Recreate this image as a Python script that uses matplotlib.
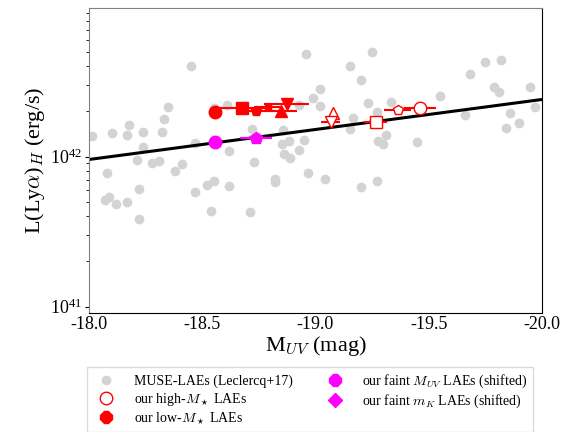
import numpy as np
import matplotlib
matplotlib.use('Agg')
from matplotlib import pyplot as plt
from matplotlib.lines import Line2D

plt.rcParams['font.family'] = ['Liberation Serif', 'DejaVu Serif']
plt.rcParams['mathtext.fontset'] = 'cm'
plt.rcParams['axes.unicode_minus'] = False

# MUSE-LAEs (Leclercq+17): M_UV, log L(Lya)_H
muse_mag = [-18.449, -18.961, -19.251, -19.151, -19.201, -19.021, -18.990, -19.232,
            -19.333, -19.551, -19.681, -19.751, -19.820, -19.791, -19.812, -19.950,
            -19.969, -18.349, -18.611, -18.930, -19.021, -18.552, -18.012, -18.330,
            -18.178, -18.100, -18.169, -18.240, -18.321, -18.240, -18.469, -18.078,
            -18.211, -18.279, -18.309, -18.380, -18.411, -18.221, -18.071, -18.088,
            -18.119, -18.169, -18.469, -18.520, -18.551, -18.619, -18.619, -18.540,
            -18.710, -18.221, -18.720, -18.730, -18.851, -18.882, -18.858, -18.949,
            -18.930, -18.861, -18.889, -18.821, -18.821, -18.968, -19.041, -19.202,
            -19.272, -19.167, -19.152, -19.311, -19.277, -19.299, -19.449, -19.661,
            -19.859, -19.900, -19.841, -19.272]
muse_logL = [42.605, 42.681, 42.699, 42.605, 42.508, 42.450, 42.388, 42.359,
             42.363, 42.405, 42.552, 42.628, 42.643, 42.461, 42.428, 42.461,
             42.330, 42.332, 42.345, 42.343, 42.337, 42.323, 42.139, 42.250,
             42.210, 42.159, 42.143, 42.161, 42.161, 42.065, 42.088, 41.888,
             41.977, 41.959, 41.972, 41.903, 41.950, 41.783, 41.710, 41.728,
             41.683, 41.699, 41.765, 41.808, 41.837, 41.803, 42.037, 41.639,
             41.632, 41.581, 42.181, 41.961, 42.081, 42.103, 42.177, 42.110,
             42.045, 42.015, 41.988, 41.850, 41.832, 41.888, 41.850, 41.799,
             41.839, 42.255, 42.181, 42.143, 42.105, 42.081, 42.095, 42.277,
             42.288, 42.225, 42.188, 42.297]

# linear relation
line_mag = [-18.0, -20.0]
line_logL = [41.98, 42.38]

# our low-M* LAEs (filled red)
low_mag = [-18.556, -18.677, -18.737, -18.790, -18.848, -18.874]
low_logL = [42.295, 42.323, 42.303, 42.327, 42.305, 42.348]
low_err = [0.0, 0.12, 0.08, 0.06, 0.07, 0.10]
low_mk = ['o', 's', 'p', 's', '^', 'v']
low_ms = [9, 8.5, 7, 5, 8.5, 8.5]

# our high-M* LAEs (open red)
high_mag = [-19.080, -19.067, -19.266, -19.364, -19.461]
high_logL = [42.288, 42.228, 42.232, 42.310, 42.321]
high_err = [0.0, 0.04, 0.05, 0.06, 0.07]
high_mk = ['^', 'v', 's', 'p', 'o']
high_ms = [9, 9, 8.5, 7.5, 9]

# faint (shifted), magenta
faint_mag = [-18.556, -18.737]
faint_logL = [42.095, 42.125]
faint_err = [0.0, 0.07]
faint_mk = ['o', 'p']
faint_ms = [9, 9]

fig = plt.figure(figsize=(5.77, 4.32), dpi=100)
ax = fig.add_axes([0.154, 0.2755, 0.785, 0.706])

ax.plot(muse_mag, 10**np.array(muse_logL), 'o', color='lightgrey', ms=7, mec='none', zorder=1)
ax.plot(line_mag, 10**np.array(line_logL), '-', color='black', lw=2.2, zorder=2)

for m, l, e, mk, ms in zip(low_mag, low_logL, low_err, low_mk, low_ms):
    ax.errorbar(m, 10**l, xerr=e, fmt=mk, color='red', ms=ms, elinewidth=1.5, zorder=3)
for m, l, e, mk, ms in zip(high_mag, high_logL, high_err, high_mk, high_ms):
    ax.errorbar(m, 10**l, xerr=e, fmt=mk, color='red', mfc='white', mec='red',
                ms=ms, elinewidth=1.5, zorder=3)
for m, l, e, mk, ms in zip(faint_mag, faint_logL, faint_err, faint_mk, faint_ms):
    ax.errorbar(m, 10**l, xerr=e, fmt=mk, color='magenta', ms=ms, elinewidth=1.5, zorder=3)

ax.set_yscale('log')
ax.set_xlim(-18.0, -20.0)
ax.set_ylim(10**40.957, 10**42.99)
ax.set_xticks([-18.0, -18.5, -19.0, -19.5, -20.0])
ax.set_xticklabels(['-18.0', '-18.5', '-19.0', '-19.5', '-20.0'])
ax.tick_params(axis='x', length=0, pad=2, labelsize=13)
ax.tick_params(axis='y', which='major', length=3, labelsize=13, pad=2)
ax.tick_params(axis='y', which='minor', length=2)
for s in ['left', 'top']:
    ax.spines[s].set_color('grey')
for s in ['bottom', 'right']:
    ax.spines[s].set_color('black')

ax.set_xlabel(r'M$_{UV}$ (mag)', fontsize=16, labelpad=1)
ax.set_ylabel(r'L(Ly$\alpha$)$_H$ (erg/s)', fontsize=16, labelpad=2)

handles = [
    Line2D([], [], marker='o', ls='none', color='lightgrey', ms=7, mec='none'),
    Line2D([], [], marker='o', ls='none', mfc='white', mec='red', ms=9),
    Line2D([], [], marker='8', ls='none', color='red', ms=9),
    Line2D([], [], marker='8', ls='none', color='magenta', ms=9),
    Line2D([], [], marker='D', ls='none', color='magenta', ms=7),
]
labels = ['MUSE-LAEs (Leclercq+17)', r'our high-$M_\star$ LAEs', r'our low-$M_\star$ LAEs',
          r'our faint $M_{UV}$ LAEs (shifted)', r'our faint $m_K$ LAEs (shifted)']
fig.legend(handles, labels, loc='upper center', bbox_to_anchor=(310/577, 1 - 360/432),
           ncol=2, fontsize=10, frameon=True, fancybox=False, edgecolor='lightgrey',
           handletextpad=1.0, columnspacing=2.0, labelspacing=0.2, borderpad=0.4)

fig.savefig('out.png', dpi=100)
